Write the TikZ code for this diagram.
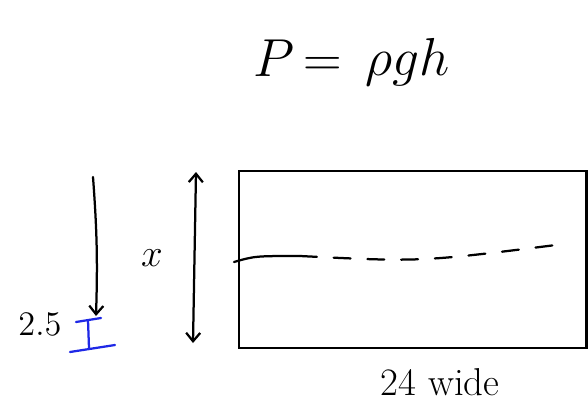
\documentclass[tikz,border=0pt]{standalone}
\usepackage{amsmath, amssymb}
\usepackage{xcolor}
\usetikzlibrary{arrows.meta}
\definecolor{penblue}{RGB}{30,40,230}
\tikzset{
  pen/.style={line width=1.6pt, line cap=round},
  tip/.style={-{Straight Barb[length=6pt, width=10pt]}},
}
\begin{document}
\begin{tikzpicture}[x=0.025cm, y=-0.025cm]
\useasboundingbox (0,0) rectangle (588,403);
\node[scale=2.2] (lhs) at (298,58) {\LARGE $P\,{=}$};
\node[scale=2.2] (rhs) at (408,62) {\LARGE $\rho g h$};
\draw[pen] (239,171) rectangle (586.5,348);
\node[scale=1.6, inner sep=0pt] (width) at (440,382) {\LARGE 24 wide};
% falling depth
\coordinate (dtop) at (93,177);
\coordinate (dbot) at (96,316);
\draw[pen, tip] (dtop) to[bend left=3] (dbot);
% height x
\coordinate (htop) at (196,172);
\coordinate (hbot) at (193,343);
\draw[pen, {Straight Barb[length=6pt, width=10pt]}-{Straight Barb[length=6pt, width=10pt]}] (htop) -- (hbot);
\node[scale=1.6] (xlabel) at (152,258) {\LARGE $x$};
% blue marker
\node[scale=1.7] (gap) at (40,324) {\Large 2.5};
\coordinate (bl) at (76,322);
\coordinate (br) at (101,318);
\coordinate (cl) at (70,352);
\coordinate (cr) at (115,345);
\draw[pen, penblue] (bl) -- (br);
\draw[pen, penblue] (88,320) -- (89,348);
\draw[pen, penblue] (cl) -- (cr);
% water level
\coordinate (wa) at (234,262);
\coordinate (wb) at (300,256);
\coordinate (wc) at (556,245);
\draw[pen] (wa) .. controls (255,256) .. (wb);
\draw[pen, dash pattern=on 12pt off 12pt] (wb) .. controls (420,262) .. (wc);
\end{tikzpicture}
\end{document}
